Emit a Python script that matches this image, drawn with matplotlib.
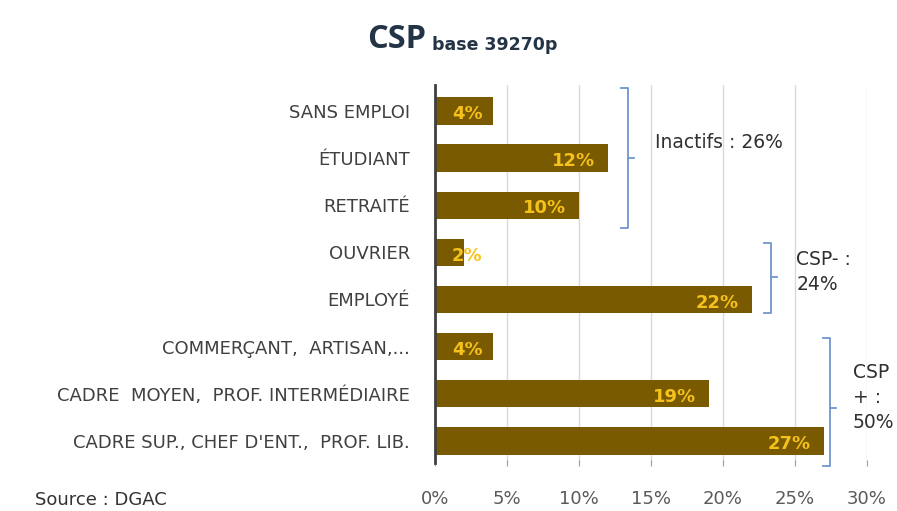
import matplotlib
matplotlib.use("Agg")
import matplotlib.pyplot as plt
import numpy as np

plt.rcParams['font.family'] = ['DejaVu Sans']

categories = ["SANS EMPLOI", "ÉTUDIANT", "RETRAITÉ", "OUVRIER", "EMPLOYÉ",
              "COMMERÇANT,  ARTISAN,...", "CADRE  MOYEN,  PROF. INTERMÉDIAIRE",
              "CADRE SUP., CHEF D'ENT.,  PROF. LIB."]
values = [4, 12, 10, 2, 22, 4, 19, 27]
xticks = [0, 5, 10, 15, 20, 25, 30]

bar_col = '#7a5a00'
lab_col = '#f5c21b'
brace_col = '#6f95cf'
txt_col = '#404040'

fig = plt.figure(figsize=(8.97, 5.11), dpi=100)
ax = fig.add_axes([435/897, 1-463/511, (867-435)/897, (463-85)/511])

y = np.arange(len(categories))
ax.barh(y, values, height=0.58, color=bar_col, zorder=3)
for yi, v in zip(y, values):
    ax.text(max(v - 0.9, 3.3), yi + 0.07, f"{v}%", ha='right', va='center',
            color=lab_col, fontsize=13, fontweight='bold', zorder=4)

ax.set_xlim(0, 30)
ax.set_ylim(7.47, -0.55)
ax.set_yticks(y)
ax.set_yticklabels(categories, fontsize=13, color=txt_col)
ax.set_xticks(xticks)
ax.set_xticklabels([f"{t}%" for t in xticks], fontsize=13, color='#595959')
ax.tick_params(axis='y', length=0, pad=18)
ax.tick_params(axis='x', length=5, color='#a0a0a0', direction='inout', pad=17)
ax.grid(axis='x', color='#d9d9d9', lw=1, zorder=0)
for s in ['top', 'right', 'bottom']:
    ax.spines[s].set_visible(False)
ax.spines['left'].set_color('#404040')
ax.spines['left'].set_linewidth(2)
ax.spines['left'].set_zorder(5)


def brace(x, y0, y1, ym):
    h = 0.45
    ax.plot([x - h, x, x, x - h], [y0, y0, y1, y1], color=brace_col, lw=1.3,
            clip_on=False, zorder=5)
    ax.plot([x, x + h], [ym, ym], color=brace_col, lw=1.3, clip_on=False, zorder=5)


brace(13.4, -0.49, 2.49, 1.0)
brace(23.3, 2.81, 4.28, 3.53)
brace(27.4, 4.81, 7.53, 6.3)

ax.text(15.3, 0.68, "Inactifs : 26%", fontsize=13.5, color='#303030', va='center')
ax.text(25.1, 3.42, "CSP- :\n24%", fontsize=13.5, color='#303030', va='center',
        linespacing=1.4)
ax.text(29.0, 6.09, "CSP\n+ :\n50%", fontsize=13.5, color='#303030', va='center',
        linespacing=1.4, clip_on=False)

fig.text(367/897, 1-40/511, "CSP", fontsize=23.5, fontweight='bold', color='#243447',
         va='center', ha='left', family='Open Sans')
fig.text(432/897, 1-45/511, "base 39270p", fontsize=12.5, fontweight='bold',
         color='#243447', va='center', ha='left')
fig.text(35/897, 1-491/511, "Source : DGAC", fontsize=13, color='#333333',
         va='top', ha='left')

fig.savefig("out.png", dpi=100)
